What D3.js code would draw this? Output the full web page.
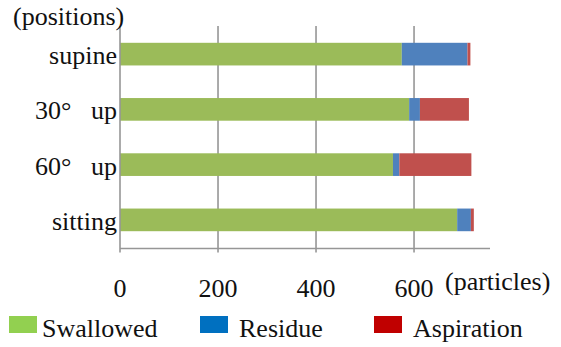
<!DOCTYPE html>
<html>
<head>
<meta charset="utf-8">
<script src="https://cdn.jsdelivr.net/npm/d3@7/dist/d3.min.js"></script>
<style>
  #chart text { font-family: 'Times New Roman', Tinos, 'Liberation Serif', serif !important; }
</style>
</head>
<body style="margin:0">
<svg id="chart" width="561" height="347" style="display:block"></svg>
<script>
const categories = ["supine", "30°\u2002 up", "60°\u2002 up", "sitting"];
const seriesNames = ["Swallowed", "Residue", "Aspiration"];
const swallowed = [575, 590, 557, 688];
const residue = [134, 22, 13, 28];
const aspiration = [6, 100, 147, 6];
const xTicks = [0, 200, 400, 600];
const barColors = ["#9BBB59", "#4F81BD", "#C0504D"];
const legendColors = ["#92D050", "#0070C0", "#C00000"];

(function () {
const svg = d3.select("#chart");
const pLeft = 120, pRight = 490, pTop = 26, pBottom = 248.5;

const x = d3.scaleLinear().domain([0, 755]).range([pLeft, pRight]);
const y = d3.scaleBand().domain(categories).range([26.5, 247.5]).paddingInner(0).paddingOuter(0);
const barH = y.bandwidth() * 0.41;

const rows = categories.map((c, i) => ({ cat: c, Swallowed: swallowed[i], Residue: residue[i], Aspiration: aspiration[i] }));
const stacked = d3.stack().keys(seriesNames)(rows);

function txt(sel) {
  return sel.attr("font-family", "Times New Roman")
    .style("font-size", "26px")
    .attr("fill", "#111");
}

// gridlines
svg.append("g").selectAll("line").data(xTicks.filter(t => t > 0)).join("line")
  .attr("x1", d => x(d)).attr("x2", d => x(d))
  .attr("y1", pTop).attr("y2", pBottom + 4)
  .attr("stroke", "#969696").attr("stroke-width", 1.6);

// bars
svg.append("g").selectAll("g").data(stacked).join("g")
  .attr("fill", (d, i) => barColors[i])
  .selectAll("rect").data(d => d).join("rect")
  .attr("x", d => x(d[0]))
  .attr("width", d => x(d[1]) - x(d[0]))
  .attr("y", d => y(d.data.cat) + (y.bandwidth() - barH) / 2)
  .attr("height", barH);

// axes lines
svg.append("line").attr("x1", pLeft).attr("x2", pLeft).attr("y1", pTop).attr("y2", pBottom + 4)
  .attr("stroke", "#969696").attr("stroke-width", 1.6);
svg.append("line").attr("x1", pLeft).attr("x2", pRight).attr("y1", pBottom).attr("y2", pBottom)
  .attr("stroke", "#969696").attr("stroke-width", 1.6);

// x tick labels
txt(svg.append("g").selectAll("text").data(xTicks).join("text"))
  .attr("x", d => x(d)).attr("y", 297)
  .attr("text-anchor", "middle")
  .text(d => d);
txt(svg.append("text")).attr("x", 445).attr("y", 290).text("(particles)");

// y labels
txt(svg.append("g").selectAll("text").data(categories).join("text"))
  .attr("x", 117).attr("y", d => y(d) + y.bandwidth() / 2 + 10)
  .attr("text-anchor", "end")
  .text(d => d);
txt(svg.append("text")).attr("x", 13).attr("y", 25).text("(positions)");

// legend
const legendX = [9, 200, 374];
const lg = svg.append("g").selectAll("g").data(seriesNames).join("g")
  .attr("transform", (d, i) => `translate(${legendX[i]},316)`);
lg.append("rect").attr("width", 28).attr("height", 17).attr("fill", (d, i) => legendColors[i]);
txt(lg.append("text")).attr("x", (d, i) => i === 0 ? 33 : 39).attr("y", 21).text(d => d);
})();
</script>
</body>
</html>
